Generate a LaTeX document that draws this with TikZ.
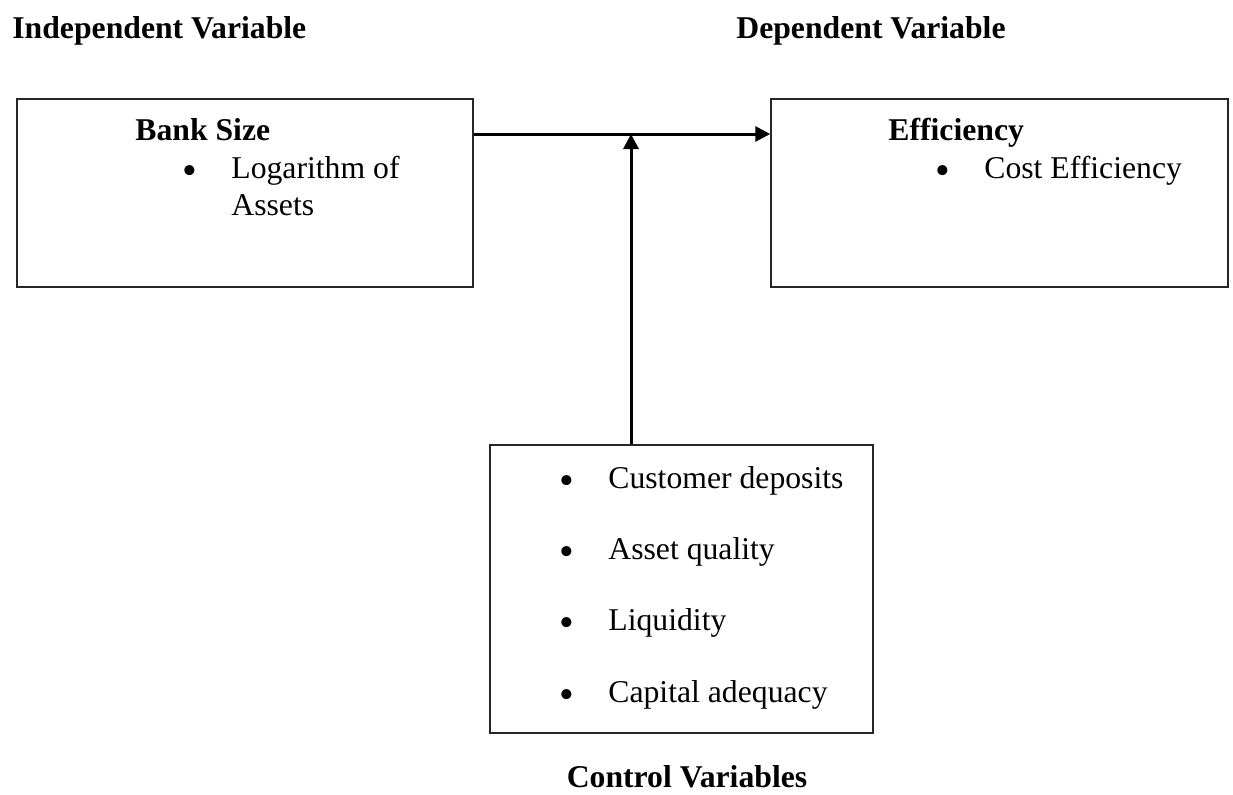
\documentclass[tikz,border=0pt]{standalone}
\usepackage{fontspec}
\setmainfont{Liberation Serif}
\usetikzlibrary{arrows.meta}

\newcommand{\bodysize}{\fontsize{15.85}{19}\selectfont}

\tikzset{
  box/.style={draw=black!85, line width=0.75pt, inner sep=0pt},
  arr/.style={line width=1.5pt, -{Triangle[length=7.5pt,width=7.5pt]}},
  txt/.style={anchor=base west, inner sep=0pt, font=\bodysize},
  head/.style={txt, font=\bodysize\bfseries},
  bul/.style={anchor=base, inner sep=0pt, yshift=-3pt, font=\fontsize{21}{21}\selectfont},
}

\begin{document}
\begin{tikzpicture}[x=0.5pt,y=-0.5pt,font=\bodysize]
\useasboundingbox (0,0) rectangle (1233,794);

% headings
\node[head] (indep) at (12,38) {Independent Variable};
\node[head] (dep) at (736,38) {Dependent Variable};
\node[head, anchor=base] (ctrlhead) at (687,787) {Control Variables};

% boxes
\node[box, minimum width=228pt, minimum height=94pt] (size) at (245,193) {};
\node[box, minimum width=228.5pt, minimum height=94pt] (eff) at (999.5,193) {};
\node[box, minimum width=191.5pt, minimum height=144pt] (ctrl) at (681.5,589) {};

% independent variable
\node[head] (sizett) at (135,140) {Bank Size};
\node[bul] (b1) at (190,178) {\textbullet};
\node[txt] (logas) at (231,178) {Logarithm of};
\node[txt] (assets) at (231,215) {Assets};

% dependent variable
\node[head] (efftt) at (888,140) {Efficiency};
\node[bul] (b2) at (943,178) {\textbullet};
\node[txt] (cost) at (984,178) {Cost Efficiency};

% control variables
\node[bul] (c1) at (567,488) {\textbullet};
\node[txt] (cust) at (608,488) {Customer deposits};
\node[bul] (c2) at (567,559) {\textbullet};
\node[txt] (qual) at (608,559) {Asset quality};
\node[bul] (c3) at (567,630) {\textbullet};
\node[txt] (liq) at (608,630) {Liquidity};
\node[bul] (c4) at (567,702) {\textbullet};
\node[txt] (cap) at (608,702) {Capital adequacy};

% connectors
\coordinate (meet) at (631,134);
\draw[arr] (size.east |- meet) -- (eff.west |- meet);
\draw[arr] (ctrl.north -| meet) -- (meet);
\end{tikzpicture}
\end{document}
